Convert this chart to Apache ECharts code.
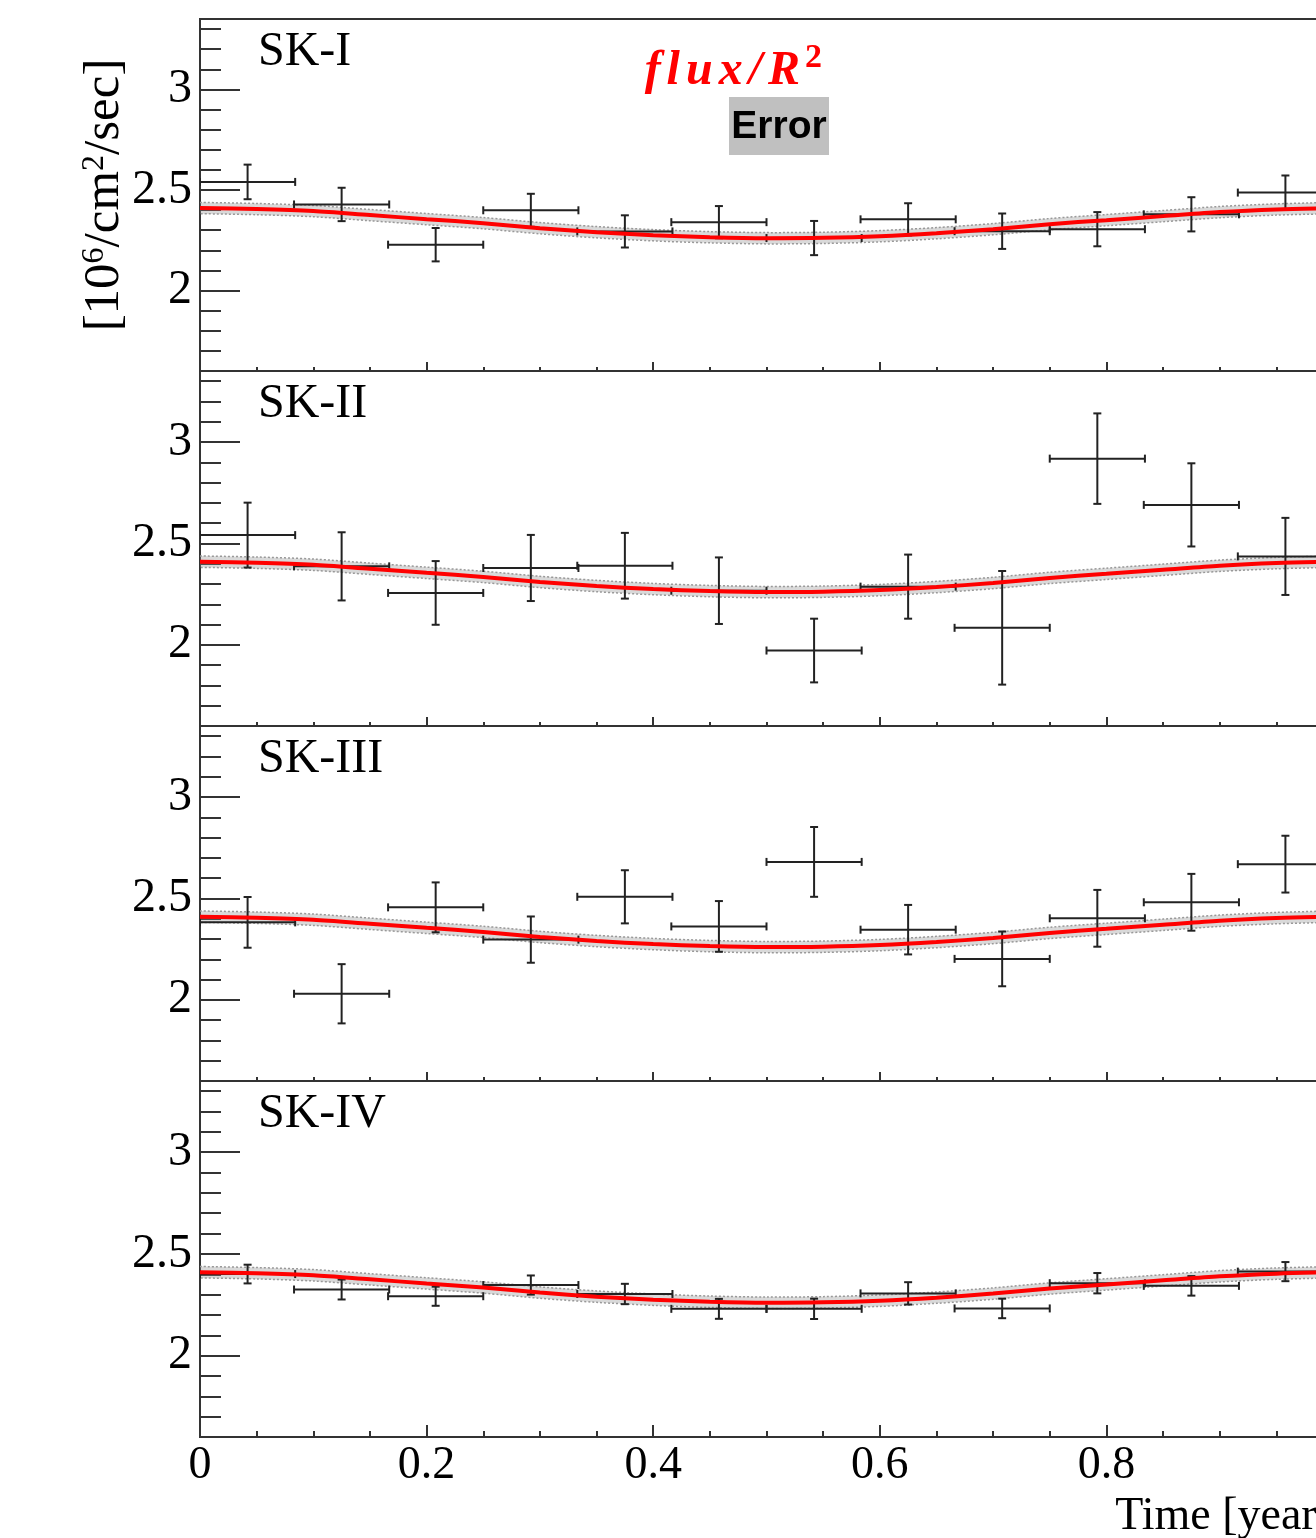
<!DOCTYPE html>
<html>
<head>
<meta charset="utf-8">
<title>SK flux / R^2 vs time</title>
<script src="https://cdn.jsdelivr.net/npm/echarts@6/dist/echarts.min.js"></script>
<style>
  html, body { margin: 0; padding: 0; background: #fff; overflow: hidden; }
  #main { width: 1316px; height: 1538px; }
</style>
</head>
<body>
<div id="main"></div>
<script>
  // 12 monthly bins over one year
  var binCenters = [0.042, 0.125, 0.208, 0.292, 0.375, 0.458, 0.542, 0.625, 0.708, 0.792, 0.875, 0.958];
  var binHalfWidth = 0.042;

  // fitted flux/R^2 curve (same in every panel)
  var fitTime = [0, 0.05, 0.1, 0.15, 0.2, 0.25, 0.3, 0.35, 0.4, 0.45, 0.5, 0.55, 0.6, 0.65, 0.7, 0.75, 0.8, 0.85, 0.9, 0.95, 1.0];
  var fitFlux = [2.41, 2.405, 2.395, 2.375, 2.355, 2.335, 2.31, 2.29, 2.275, 2.265, 2.26, 2.262, 2.27, 2.285, 2.305, 2.33, 2.35, 2.37, 2.39, 2.403, 2.41];
  var bandHalf = 0.028;

  var panelNames = ['SK-I', 'SK-II', 'SK-III', 'SK-IV'];

  var skI    = [2.540, 2.428, 2.228, 2.399, 2.294, 2.340, 2.261, 2.354, 2.295, 2.305, 2.379, 2.487];
  var skIErr = [0.086, 0.083, 0.083, 0.082, 0.080, 0.080, 0.085, 0.080, 0.088, 0.085, 0.085, 0.085];

  var skII    = [2.541, 2.387, 2.256, 2.379, 2.390, 2.267, 1.972, 2.287, 2.084, 2.918, 2.690, 2.436];
  var skIIErr = [0.160, 0.168, 0.157, 0.163, 0.162, 0.164, 0.157, 0.158, 0.280, 0.223, 0.205, 0.190];

  var skIII    = [2.382, 2.030, 2.456, 2.297, 2.508, 2.362, 2.680, 2.346, 2.202, 2.402, 2.481, 2.669];
  var skIIIErr = [0.125, 0.146, 0.123, 0.114, 0.131, 0.125, 0.172, 0.122, 0.135, 0.140, 0.140, 0.140];

  var skIV    = [2.401, 2.325, 2.292, 2.347, 2.303, 2.230, 2.230, 2.306, 2.232, 2.356, 2.343, 2.413];
  var skIVErr = [0.046, 0.049, 0.047, 0.047, 0.050, 0.049, 0.050, 0.055, 0.048, 0.050, 0.048, 0.047];

  var panelValues = [skI, skII, skIII, skIV];
  var panelErrors = [skIErr, skIIErr, skIIIErr, skIVErr];

  var yTickLabels = [2, 2.5, 3];
  var xTickLabels = [0, 0.2, 0.4, 0.6, 0.8, 1];

  // layout
  var panelTops = [19, 371, 726, 1081];
  var panelHeights = [352, 355, 355, 356];
  var serif = '"Liberation Serif", "Times New Roman", serif';
  var axisColor = '#333';

  var myChart = echarts.init(document.getElementById('main'), null, { renderer: 'canvas' });

  // cross with x and y error bars
  function renderErr(params, api) {
    var x = api.value(0), y = api.value(1), e = api.value(2);
    var c = api.coord([x, y]);
    var l = api.coord([x - binHalfWidth, y]);
    var r = api.coord([x + binHalfWidth, y]);
    var t = api.coord([x, y + e]);
    var b = api.coord([x, y - e]);
    var cap = 4;
    var st = { stroke: '#222', lineWidth: 2, fill: null };
    return {
      type: 'group',
      children: [
        { type: 'line', shape: { x1: l[0], y1: c[1], x2: r[0], y2: c[1] }, style: st },
        { type: 'line', shape: { x1: l[0], y1: c[1] - cap, x2: l[0], y2: c[1] + cap }, style: st },
        { type: 'line', shape: { x1: r[0], y1: c[1] - cap, x2: r[0], y2: c[1] + cap }, style: st },
        { type: 'line', shape: { x1: c[0], y1: t[1], x2: c[0], y2: b[1] }, style: st },
        { type: 'line', shape: { x1: c[0] - cap, y1: t[1], x2: c[0] + cap, y2: t[1] }, style: st },
        { type: 'line', shape: { x1: c[0] - cap, y1: b[1], x2: c[0] + cap, y2: b[1] }, style: st }
      ]
    };
  }

  // gray error band of the fit, drawn once as a polygon
  function renderBand(params, api) {
    if (params.dataIndex !== 0) return null;
    var upper = [], lower = [];
    for (var k = 0; k < fitTime.length; k++) {
      upper.push(api.coord([fitTime[k], fitFlux[k] + bandHalf]));
      lower.unshift(api.coord([fitTime[k], fitFlux[k] - bandHalf]));
    }
    var edge = { stroke: '#999', lineWidth: 1.5, lineDash: [2, 2], fill: null };
    return {
      type: 'group',
      children: [
        { type: 'polygon', shape: { points: upper.concat(lower) }, style: { fill: 'rgba(140,140,140,0.33)', stroke: null } },
        { type: 'polyline', shape: { points: upper, smooth: 0.3 }, style: edge },
        { type: 'polyline', shape: { points: lower, smooth: 0.3 }, style: edge }
      ]
    };
  }

  var grids = [], xAxes = [], yAxes = [], series = [], graphics = [];

  panelNames.forEach(function(name, i) {
    var last = i === panelNames.length - 1;
    grids.push({
      left: 200, right: -17, top: panelTops[i], height: panelHeights[i],
      show: true, borderColor: axisColor, borderWidth: 2,
      backgroundColor: 'transparent', outerBoundsMode: 'none', containLabel: false
    });
    xAxes.push({
      gridIndex: i, type: 'value', min: 0, max: 1, interval: 0.2,
      axisLine: { show: true, onZero: false, lineStyle: { color: axisColor, width: 2 } },
      axisTick: { show: true, inside: true, length: last ? 12 : 9, lineStyle: { color: axisColor, width: 2 } },
      minorTick: { show: true, splitNumber: 4, length: last ? 6 : 4, lineStyle: { color: axisColor, width: 2 } },
      splitLine: { show: false },
      axisLabel: {
        show: last, margin: 6, fontSize: 46, fontFamily: serif, color: '#000',
        formatter: function(v) { return xTickLabels.indexOf(+v.toFixed(2)) >= 0 ? String(+v.toFixed(2)) : ''; }
      }
    });
    var ya = {
      gridIndex: i, type: 'value', min: 1.6, max: 3.35, splitNumber: 3,
      axisLine: { show: true, onZero: false, lineStyle: { color: axisColor, width: 2 } },
      axisTick: { show: true, inside: true, length: 40, lineStyle: { color: axisColor, width: 2 } },
      minorTick: { show: true, splitNumber: 5, length: 21, lineStyle: { color: axisColor, width: 2 } },
      splitLine: { show: false },
      axisLabel: {
        margin: 8, fontSize: 48, fontFamily: serif, color: '#000',
        showMinLabel: false, showMaxLabel: false,
        formatter: function(v) { return yTickLabels.indexOf(+v.toFixed(2)) >= 0 ? String(+v.toFixed(2)) : ''; }
      }
    };
    if (i === 0) {
      ya.name = '[10{sup|6}/cm{sup|2}/sec]';
      ya.nameLocation = 'middle';
      ya.nameGap = 70;
      ya.nameMoveOverlap = false;
      ya.nameTextStyle = {
        fontSize: 51, fontFamily: serif, color: '#000',
        rich: { sup: { fontSize: 32, fontFamily: serif, color: '#000', verticalAlign: 'top' } }
      };
    }
    yAxes.push(ya);

    series.push({
      type: 'custom', xAxisIndex: i, yAxisIndex: i, clip: true, silent: true, z: 2,
      data: fitTime.map(function(t, k) { return [t, fitFlux[k]]; }),
      renderItem: renderBand
    });
    // data points with x/y error bars
    series.push({
      type: 'custom', xAxisIndex: i, yAxisIndex: i, clip: true, silent: true, z: 3,
      data: binCenters.map(function(x, k) { return [x, panelValues[i][k], panelErrors[i][k]]; }),
      renderItem: renderErr
    });
    // fit curve
    series.push({
      type: 'line', xAxisIndex: i, yAxisIndex: i,
      data: fitTime.map(function(t, k) { return [t, fitFlux[k]]; }),
      smooth: 0.3, symbol: 'none', silent: true, z: 4,
      lineStyle: { color: '#ff0000', width: 4 }
    });

    graphics.push({
      type: 'text', x: 258, y: panelTops[i] + 33, z: 10,
      style: { text: name, font: '48px ' + serif, fill: '#000', align: 'left', verticalAlign: 'middle' }
    });
  });

  // legend-like annotations
  graphics.push({
    type: 'text', x: 803, y: 72, z: 10,
    style: {
      text: '{a|f}{a|l}{a|u}{a|x}{a|/}{a|R}',
      align: 'right', verticalAlign: 'middle',
      rich: { a: { font: 'italic bold 48px ' + serif, fill: '#ff0000', padding: [0, 3, 0, 3] } }
    }
  });
  graphics.push({
    type: 'text', x: 805, y: 58, z: 10,
    style: { text: '2', font: 'bold 34px ' + serif, fill: '#ff0000', align: 'left', verticalAlign: 'middle' }
  });
  graphics.push({
    type: 'rect', shape: { x: 729, y: 97, width: 100, height: 58 }, z: 9,
    style: { fill: '#c0c0c0' }
  });
  graphics.push({
    type: 'text', x: 779, y: 127, z: 10,
    style: { text: 'Error', font: 'bold 39px "Liberation Sans", Arial, sans-serif', fill: '#000', align: 'center', verticalAlign: 'middle' }
  });
  graphics.push({
    type: 'text', x: 1332, y: 1517, z: 10,
    style: { text: 'Time [year]', font: '46px ' + serif, fill: '#000', align: 'right', verticalAlign: 'middle' }
  });

  var option = {
    backgroundColor: '#fff',
    animation: false,
    grid: grids,
    xAxis: xAxes,
    yAxis: yAxes,
    series: series,
    graphic: graphics
  };

  myChart.setOption(option);
  window.onresize = function() {
    myChart.resize();
  };
</script>
</body>
</html>
